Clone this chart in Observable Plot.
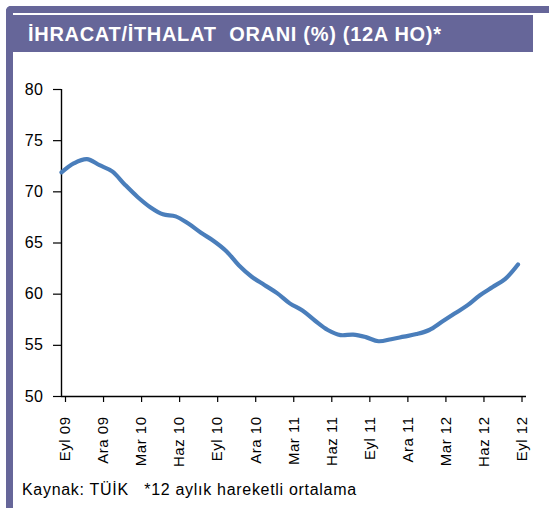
<!DOCTYPE html>
<html>
<head>
<meta charset="utf-8">
<script src="https://cdn.jsdelivr.net/npm/d3@7"></script>
<script src="https://cdn.jsdelivr.net/npm/@observablehq/plot@0.6"></script>
<style>
  html, body { margin: 0; padding: 0; background: #fff; }
  body { width: 549px; height: 508px; position: relative; overflow: hidden; font-family: Arial, "Liberation Sans", sans-serif; }
  #frame { position: absolute; left: 6px; top: 6px; width: 560px; height: 520px;
           border-left: 7px solid #666699; border-top: 7px solid #666699; border-top-left-radius: 5px; box-sizing: border-box; }
  #title { position: absolute; left: 13px; top: 15px; width: 520px; height: 37px; background: #666699;
           color: #fff; font-weight: bold; font-size: 20px; line-height: 38px; box-sizing: border-box; padding-left: 15px;
           white-space: pre; letter-spacing: 0.7px; }
  #chart { position: absolute; left: 0; top: 60px; }
  #chart svg text { letter-spacing: 0.5px; }
  #foot { position: absolute; left: 22px; top: 481px; font-size: 16px; color: #000; white-space: pre; letter-spacing: 0.7px; }
</style>
</head>
<body>
<div id="frame"></div>
<div id="title">İHRACAT/İTHALAT  ORANI (%) (12A HO)*</div>
<div id="chart"></div>
<div id="foot">Kaynak: TÜİK   *12 aylık hareketli ortalama</div>
<script>
const months = [
  "Eyl 09","Eki 09","Kas 09","Ara 09","Oca 10","Şub 10","Mar 10","Nis 10","May 10","Haz 10","Tem 10","Ağu 10",
  "Eyl 10","Eki 10","Kas 10","Ara 10","Oca 11","Şub 11","Mar 11","Nis 11","May 11","Haz 11","Tem 11","Ağu 11",
  "Eyl 11","Eki 11","Kas 11","Ara 11","Oca 12","Şub 12","Mar 12","Nis 12","May 12","Haz 12","Tem 12","Ağu 12",
  "Eyl 12"
];
const ratio = [
  71.9, 72.8, 73.2, 72.6, 72.0, 70.7, 69.5, 68.5, 67.8, 67.6, 66.9, 66.0,
  65.2, 64.2, 62.8, 61.7, 60.9, 60.1, 59.1, 58.4, 57.4, 56.5, 56.0, 56.05,
  55.8, 55.4, 55.6, 55.85, 56.1, 56.5, 57.3, 58.1, 58.9, 59.9, 60.7, 61.5,
  62.9
];
const xTickIdx = [0, 3, 6, 9, 12, 15, 18, 21, 24, 27, 30, 33, 36];
const yTicks = [50, 55, 60, 65, 70, 75, 80];

const data = months.map((m, i) => ({i, label: m, value: ratio[i]}));

const chart = Plot.plot({
  width: 549,
  height: 420,
  marginLeft: 61,
  marginRight: 23,
  marginTop: 29,
  marginBottom: 84,
  style: {fontFamily: "Arial, 'Liberation Sans', sans-serif", color: "#000", background: "transparent", overflow: "visible"},
  x: {type: "linear", domain: [0, 36.67]},
  y: {domain: [50, 80]},
  marks: [
    Plot.axisY({ticks: yTicks, tickSize: 8, tickPadding: 10, fontSize: 16, label: null, strokeWidth: 1.2}),
    Plot.axisX({ticks: xTickIdx, tickFormat: i => months[i], tickRotate: -90, tickSize: 6, tickPadding: 14,
                fontSize: 15, label: null, strokeWidth: 1.2, dx: 4}),
    Plot.ruleX([0], {y1: 50, y2: 80, stroke: "#000", strokeWidth: 1.4}),
    Plot.ruleY([50], {stroke: "#000", strokeWidth: 1.4}),
    Plot.line(data, {x: "i", y: "value", stroke: "#4A7EBB", strokeWidth: 4.2, curve: "catmull-rom", strokeLinecap: "round"})
  ]
});
document.getElementById("chart").appendChild(chart);
</script>
</body>
</html>
